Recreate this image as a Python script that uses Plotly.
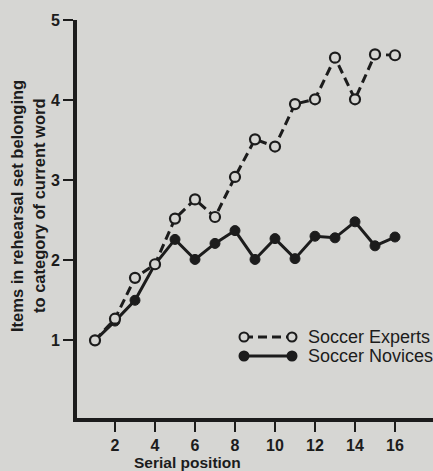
import plotly.graph_objects as go

# Serial positions and mean number of same-category items in the rehearsal set
positions = list(range(1, 17))
experts = [1.00, 1.27, 1.78, 1.95, 2.52, 2.76, 2.54, 3.04,
           3.51, 3.42, 3.95, 4.01, 4.53, 4.01, 4.57, 4.56]
novices = [1.00, 1.24, 1.50, 1.95, 2.26, 2.01, 2.21, 2.37,
           2.01, 2.27, 2.02, 2.30, 2.28, 2.48, 2.18, 2.29]

x_ticks = [2, 4, 6, 8, 10, 12, 14, 16]
y_ticks = [1, 2, 3, 4, 5]

series_names = ["Soccer Experts", "Soccer Novices"]

paper = "#d6d6d3"
ink = "#1c1c1c"
font_family = "Liberation Sans, Arial, sans-serif"

fig = go.Figure()

fig.add_trace(go.Scatter(
    x=positions, y=novices, mode="lines+markers", name=series_names[1],
    line=dict(color=ink, width=3),
    marker=dict(symbol="circle", size=10, color=ink, line=dict(color=ink, width=1)),
    showlegend=False,
))
fig.add_trace(go.Scatter(
    x=positions, y=experts, mode="lines+markers", name=series_names[0],
    line=dict(color=ink, width=3, dash="9px,5px"),
    marker=dict(symbol="circle", size=10, color=paper, line=dict(color=ink, width=2.2)),
    showlegend=False,
))

L, T, W, H = 77, 20, 356, 398


def px_x(p):
    return (p - L) / W


def px_y(p):
    return 1 - (p - T) / H


# Hand-drawn key: sample line with a marker at each end, then the label
shapes = []
annotations = []
key_rows = [(337, "dash", paper, series_names[0]), (356, "solid", ink, series_names[1])]
for ypix, dash, fill, label in key_rows:
    shapes.append(dict(type="line", xref="paper", yref="paper",
                       x0=px_x(244), x1=px_x(292), y0=px_y(ypix), y1=px_y(ypix),
                       line=dict(color=ink, width=3, dash="9px,5px" if dash == "dash" else "solid")))
    for xpix in (244, 292):
        shapes.append(dict(type="circle", xref="paper", yref="paper",
                           xsizemode="pixel", ysizemode="pixel",
                           xanchor=px_x(xpix), yanchor=px_y(ypix),
                           x0=-4.5, x1=4.5, y0=-4.5, y1=4.5,
                           fillcolor=fill, line=dict(color=ink, width=2)))
    annotations.append(dict(xref="paper", yref="paper", x=px_x(306), y=px_y(ypix),
                            xanchor="left", yanchor="middle", showarrow=False,
                            text=label, font=dict(family=font_family, size=18, color=ink)))

# Two-line y-axis title and x-axis title
annotations.append(dict(xref="paper", yref="paper", x=px_x(17), y=px_y(206),
                        xanchor="center", yanchor="middle", showarrow=False, textangle=-90,
                        text="<b>Items in rehearsal set belonging</b>",
                        font=dict(family=font_family, size=16.5, color=ink)))
annotations.append(dict(xref="paper", yref="paper", x=px_x(39), y=px_y(206),
                        xanchor="center", yanchor="middle", showarrow=False, textangle=-90,
                        text="<b>to category of current word</b>",
                        font=dict(family=font_family, size=16.5, color=ink)))
annotations.append(dict(xref="paper", yref="paper", x=px_x(187), y=px_y(462),
                        xanchor="center", yanchor="middle", showarrow=False,
                        text="<b>Serial position</b>",
                        font=dict(family=font_family, size=15.5, color=ink)))

fig.update_layout(
    width=433, height=471,
    margin=dict(l=L, r=433 - L - W, t=T, b=471 - T - H),
    paper_bgcolor=paper, plot_bgcolor=paper,
    shapes=shapes, annotations=annotations,
    font=dict(family=font_family, color=ink),
)
fig.update_xaxes(
    range=[0.1, 17.9], tickvals=x_ticks, ticktext=[f"<b>{v}</b>" for v in x_ticks],
    showgrid=False, zeroline=False, showline=True, linecolor=ink, linewidth=4,
    ticks="outside", ticklen=10, tickwidth=2, tickcolor=ink,
    tickfont=dict(family=font_family, size=16, color=ink),
)
fig.update_yaxes(
    range=[0.03, 5], tickvals=y_ticks, ticktext=[f"<b>{v}</b>" for v in y_ticks],
    showgrid=False, zeroline=False, showline=True, linecolor=ink, linewidth=4,
    ticks="outside", ticklen=10, tickwidth=2, tickcolor=ink,
    tickfont=dict(family=font_family, size=16, color=ink),
)

fig.write_html("out.html")
